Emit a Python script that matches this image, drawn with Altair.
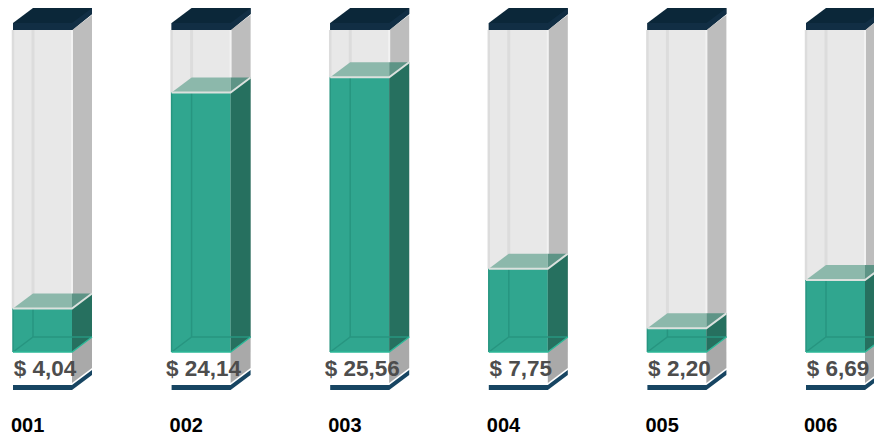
import altair as alt
import pandas as pd

categories = ["001", "002", "003", "004", "005", "006"]
values = [4.04, 24.14, 25.56, 7.75, 2.20, 6.69]
value_labels = ["$ 4,04", "$ 24,14", "$ 25,56", "$ 7,75", "$ 2,20", "$ 6,69"]

# Page-to-scale conversion: one category step and one value unit in pixels
STEP = 158.6
UNIT = 10.75
# Shape of the 3D tube, in pixels relative to each bar's front-left corner and zero line
FW, DX, DY = 59.0, 20.0, 15.0
TOP_PX, CAP_PX = 322.0, 7.0


def xv(i, dx):
    return i + dx / STEP


def yv(px):
    return px / UNIT


rows, line_rows = [], []


def poly(part, i, pts):
    for n, (dx, a, b) in enumerate(pts):
        rows.append(dict(part=part, bar=i, n=n, x=xv(i, dx), low=yv(a), high=yv(b)))


def line(part, i, seg, pts):
    for n, (dx, a) in enumerate(pts):
        line_rows.append(dict(part=part, key=f"{i}-{seg}", n=n, x=xv(i, dx), low=yv(a)))


for i, val in enumerate(values):
    h = val * UNIT
    R, B = FW + DX, DY
    poly("glassFront", i, [(0, 0, TOP_PX), (FW, 0, TOP_PX)])
    poly("glassSide", i, [(FW, 0, TOP_PX), (R, B, TOP_PX + DY)])
    poly("baseSide", i, [(FW, -31, 0), (R, -31 + B, B)])
    poly("baseStripe", i, [(0, -38, -33), (FW, -38, -33), (R, -38 + B, -33 + B)])
    line("glassBack", i, "b", [(DX, B), (DX, TOP_PX + DY)])
    line("glassLeft", i, "l", [(0, h), (0, TOP_PX)])
    line("glassRight", i, "r", [(FW, h), (FW, TOP_PX)])
    poly("liquidFront", i, [(0, 0, h), (FW, 0, h)])
    poly("liquidSide", i, [(FW, 0, h), (R, B, h + B)])
    poly("liquidTop", i, [(0, h, h), (DX, h, h + B), (FW, h, h + B)])
    poly("liquidTopSide", i, [(FW, h, h + B), (R, h + B, h + B)])
    line("liquidInner", i, "back", [(DX, B), (DX, h)])
    line("liquidInner", i, "floor", [(0, 0), (DX, B), (R, B)])
    line("liquidInner", i, "left", [(0, 0), (0, h)])
    line("liquidEdge", i, "bottom", [(0, 0), (FW, 0), (R, B)])
    line("surfaceEdge", i, "s", [(0, h), (FW, h), (R, h + B)])
    poly("cap", i, [(0, TOP_PX, TOP_PX + CAP_PX), (DX, TOP_PX, TOP_PX + 22),
                    (FW, TOP_PX, TOP_PX + 22), (R, TOP_PX + 16, TOP_PX + 22)])
    poly("capLip", i, [(0, TOP_PX, TOP_PX + CAP_PX), (FW, TOP_PX, TOP_PX + CAP_PX),
                       (R, TOP_PX + 16, TOP_PX + 22)])

shapes = pd.DataFrame(rows)
lines = pd.DataFrame(line_rows)
labels = pd.DataFrame(dict(
    x=[xv(i, 32) for i in range(6)], low=[yv(-16.5)] * 6, t=value_labels))
cats = pd.DataFrame(dict(
    x=[xv(i, -2) for i in range(6)], low=[yv(-74)] * 6, t=categories))

x_scale = alt.Scale(domain=[xv(0, -5), xv(0, 861)], nice=False, zero=False)
y_scale = alt.Scale(domain=[yv(-86), yv(344)], nice=False, zero=False)
X = alt.X("x:Q", scale=x_scale, axis=None)
Y = alt.Y("low:Q", scale=y_scale, axis=None)


def area(part, color):
    return alt.Chart(shapes[shapes.part == part]).mark_area(
        fill=color, opacity=1, orient="vertical", interpolate="linear").encode(
        x=X, y=alt.Y("low:Q", scale=y_scale, axis=None, stack=None),
        y2=alt.Y2("high"), detail="bar:N")


def stroke(part, color, w):
    return alt.Chart(lines[lines.part == part]).mark_line(
        color=color, strokeWidth=w, clip=False).encode(
        x=X, y=Y, detail="key:N", order="n:Q")


chart = alt.layer(
    area("glassFront", "#E8E8E8"),
    area("glassSide", "#BDBDBD"),
    area("baseSide", "#A9A9A9"),
    area("baseStripe", "#174562"),
    stroke("glassBack", "#DCDCDC", 3),
    stroke("glassLeft", "#DCDCDC", 2.5),
    stroke("glassRight", "#F2F2F2", 2),
    area("liquidFront", "#30A68F"),
    area("liquidSide", "#26705F"),
    area("liquidTop", "#8CB8AB"),
    area("liquidTopSide", "#5E9486"),
    stroke("liquidInner", "#279580", 1.5),
    stroke("liquidEdge", "#2DB898", 1.5),
    stroke("surfaceEdge", "#DBE1DE", 2),
    area("cap", "#0B2739"),
    area("capLip", "#112E44"),
    alt.Chart(labels).mark_text(
        font="Liberation Sans", fontWeight="bold", fontSize=22.5, color="#4D4D4D",
        align="center", baseline="middle").encode(x=X, y=Y, text="t:N"),
    alt.Chart(cats).mark_text(
        font="Liberation Sans", fontWeight="bold", fontSize=20, color="#000000",
        align="left", baseline="middle").encode(x=X, y=Y, text="t:N"),
).properties(
    width=866, height=430, padding=0,
    autosize=alt.AutoSizeParams(type="none"),
).configure_view(stroke=None)

chart.save("out.html", embed_options={"renderer": "svg", "actions": False})
